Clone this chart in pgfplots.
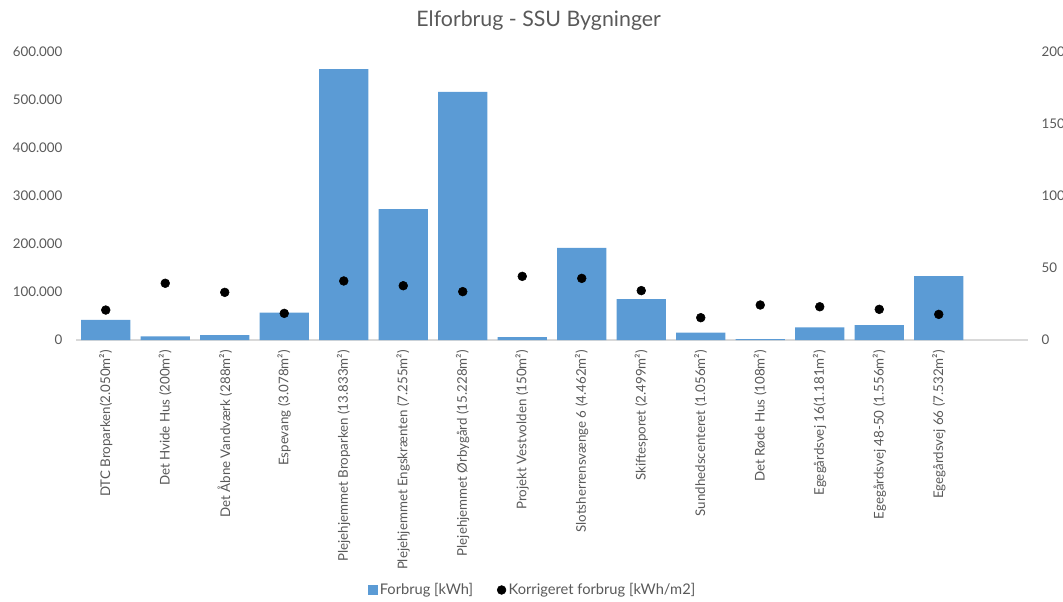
\documentclass[border=0pt]{standalone}
\usepackage{fontspec}
\setmainfont{Lato}
\usepackage{pgfplots}
\usepackage{pgfplotstable}
\pgfplotsset{compat=1.18}
\definecolor{barblue}{HTML}{5B9BD5}
\definecolor{txtgray}{HTML}{595959}
\definecolor{axgray}{HTML}{D9D9D9}

% x = building index, forbrug in kWh
\pgfplotstableread{
x forbrug
0 41700
1 7700
2 10400
3 56900
4 564600
5 272900
6 516700
7 6250
8 191700
9 85400
10 15300
11 2000
12 26400
13 31250
14 133300
}\forbrugdata

% corrected consumption, kWh/m2
\pgfplotstableread{
x korr
0 20.8
1 39.4
2 33.1
3 18.5
4 41.0
5 37.7
6 33.6
7 44.2
8 42.8
9 34.3
10 15.5
11 24.3
12 23.1
13 21.3
14 17.8
}\korrdata

\begin{document}
\begin{tikzpicture}
\useasboundingbox (0,0) rectangle (797.25pt,450.75pt);
\node[text=txtgray, font=\fontsize{16pt}{19pt}\selectfont] at (404pt,435pt) {Elforbrug - SSU Bygninger};

\begin{axis}[
  at={(57pt,195.75pt)}, anchor=south west,
  scale only axis, width=714pt, height=216pt,
  xmin=-0.5, xmax=15.5, ymin=0, ymax=600000,
  axis lines*=left,
  y axis line style={draw=none},
  x axis line style={draw=axgray, line width=0.8pt},
  major tick length=0pt,
  scaled y ticks=false,
  ytick={0,100000,200000,300000,400000,500000,600000},
  yticklabels={0,100.000,200.000,300.000,400.000,500.000,600.000},
  yticklabel style={anchor=east, inner sep=0pt, xshift=-10pt, text=txtgray,
    font=\fontsize{10pt}{12pt}\selectfont},
  xtick={0,...,14},
  xticklabels={{DTC Broparken(2.050m²)},{Det Hvide Hus (200m²)},{Det Åbne Vandværk (288m²)},
    {Espevang (3.078m²)},{Plejehjemmet Broparken (13.833m²)},{Plejehjemmet Engskrænten (7.255m²)},
    {Plejehjemmet Ørbygård (15.228m²)},{Projekt Vestvolden (150m²)},{Slotsherrensvænge 6 (4.462m²)},
    {Skiftesporet (2.499m²)},{Sundhedscenteret (1.056m²)},{Det Røde Hus (108m²)},
    {Egegårdsvej 16(1.181m²)},{Egegårdsvej 48-50 (1.556m²)},{Egegårdsvej 66 (7.532m²)}},
  xticklabel style={rotate=90, anchor=east, inner sep=0pt, text=txtgray,
    font=\fontsize{10pt}{12pt}\selectfont},
  xticklabel shift=7.5pt,
]
\addplot[ybar, fill=barblue, draw=none, bar width=0.83] table[x=x, y=forbrug] {\forbrugdata};
\end{axis}

\begin{axis}[
  at={(57pt,195.75pt)}, anchor=south west,
  scale only axis, width=714pt, height=216pt,
  xmin=-0.5, xmax=15.5, ymin=0, ymax=200,
  axis x line=none,
  axis y line*=right,
  y axis line style={draw=none},
  major tick length=0pt,
  ytick={0,50,100,150,200},
  yticklabels={0,50,100,150,200},
  yticklabel style={anchor=west, inner sep=0pt, xshift=10pt, text=txtgray,
    font=\fontsize{10pt}{12pt}\selectfont},
  legend columns=2,
  legend style={draw=none, fill=none, at={(0.48,-0.868)}, anchor=center,
    text=txtgray, font=\fontsize{11pt}{13pt}\selectfont,
    /tikz/every even column/.append style={column sep=16pt}},
]
\addlegendimage{legend image code/.code={\fill[barblue] (0pt,-3.2pt) rectangle (6.4pt,3.2pt);}}
\addlegendentry{Forbrug [kWh]}
\addplot[only marks, mark=*, mark size=3.3pt, black] table[x=x, y=korr] {\korrdata};
\addlegendentry{Korrigeret forbrug [kWh/m2]}
\end{axis}
\end{tikzpicture}
\end{document}
